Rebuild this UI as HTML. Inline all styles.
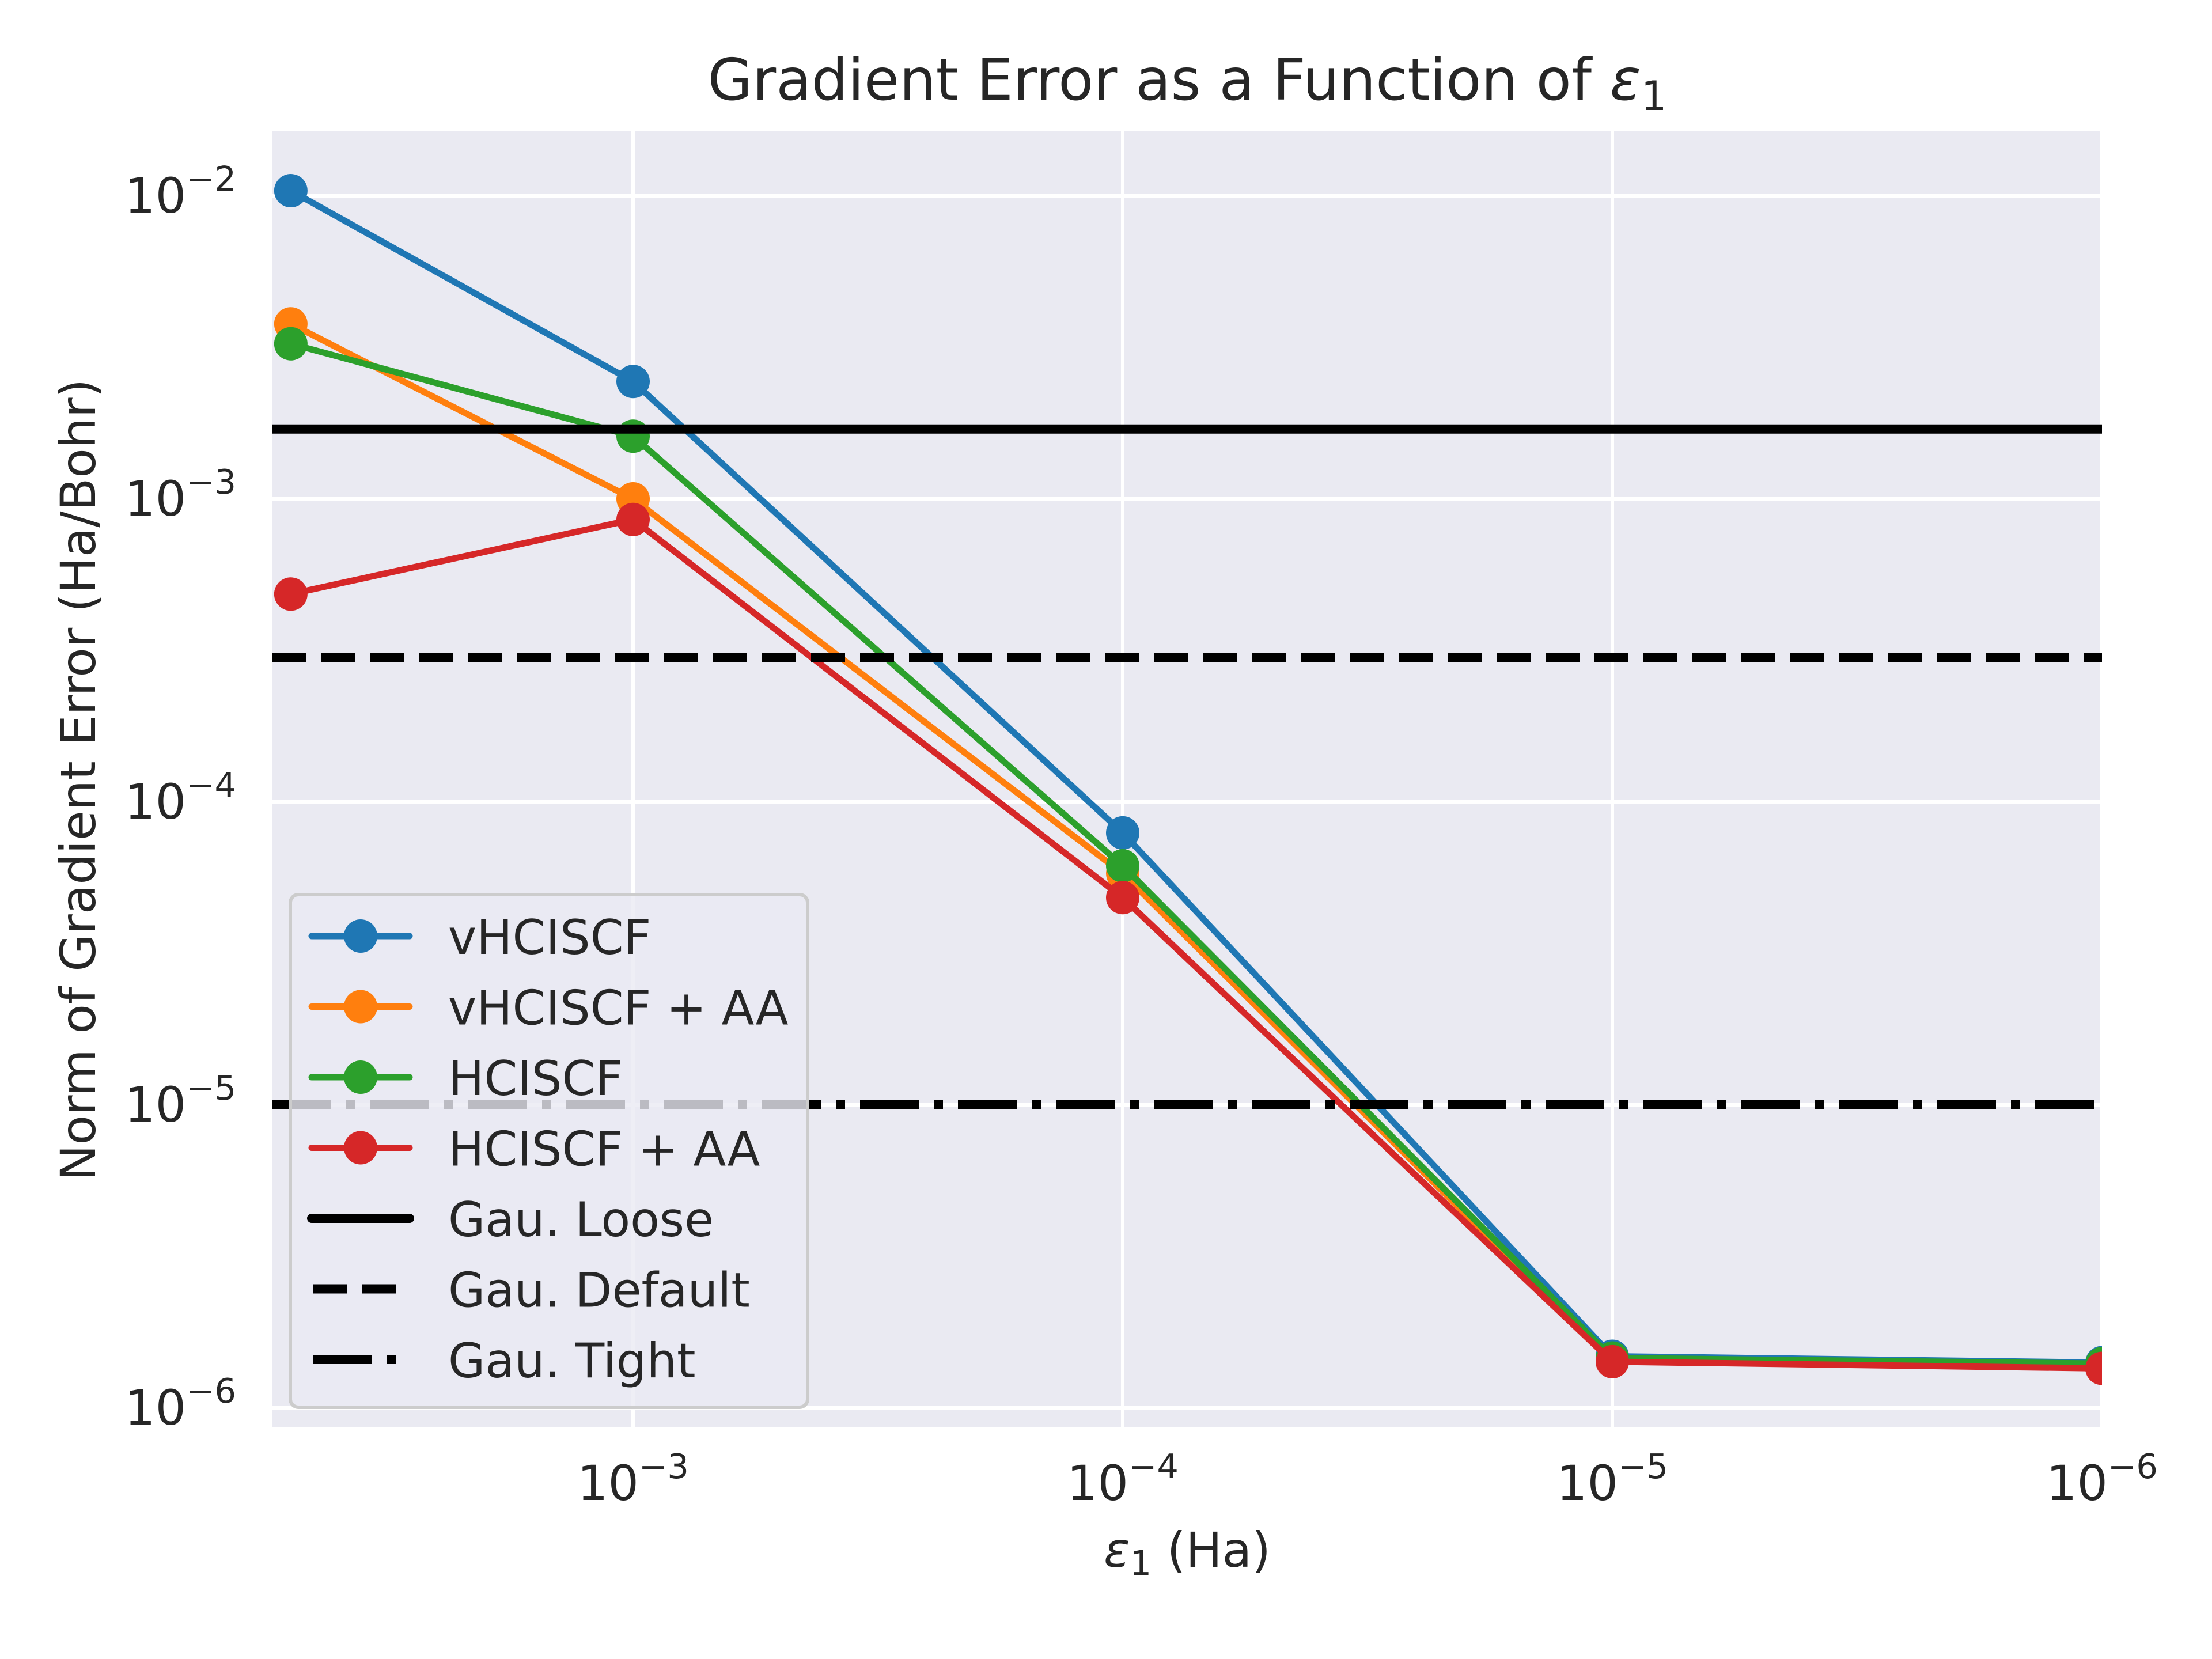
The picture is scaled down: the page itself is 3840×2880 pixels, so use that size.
<!DOCTYPE html>
<html><head><meta charset="utf-8"><style>
html,body{margin:0;padding:0;background:#fff}
svg{display:block}
text{font-family:"DejaVu Sans","Liberation Sans",sans-serif;fill:#262626}
</style></head><body>
<svg id="chart" width="3840" height="2880" viewBox="0 0 3840 2880" xmlns="http://www.w3.org/2000/svg">
<defs><clipPath id="plotclip"><rect x="473" y="228" width="3176" height="2250"/></clipPath></defs>
<rect x="0" y="0" width="3840" height="2880" fill="#fff"/>
<rect x="473" y="228" width="3176" height="2250" fill="#EAEAF2"/>
<g id="grid"></g>
<g id="series" clip-path="url(#plotclip)"></g>
<g id="hlines"></g>
<g id="xticks"></g>
<g id="yticks"></g>
<text x="2061" y="173" font-size="100" text-anchor="middle">Gradient Error as a Function of <tspan font-style="italic">ε</tspan><tspan font-size="70" dy="18">1</tspan></text>
<text x="2061" y="2720" font-size="84" text-anchor="middle"><tspan font-style="italic">ε</tspan><tspan font-size="59" dy="14">1</tspan><tspan dy="-14"> (Ha)</tspan></text>
<text x="0" y="0" font-size="84" text-anchor="middle" transform="translate(165,1354) rotate(-90)">Norm of Gradient Error (Ha/Bohr)</text>
<g id="legend">
<rect x="504" y="1553" width="898" height="890" rx="14" fill="#EAEAF2" fill-opacity="0.8" stroke="#cccccc" stroke-width="6"/>
</g>
</svg>
<script>
const NS='http://www.w3.org/2000/svg';
const xValues=[5e-3,1e-3,1e-4,1e-5,1e-6];
const seriesNames=['vHCISCF','vHCISCF + AA','HCISCF','HCISCF + AA'];
const vhciscf=[1.04e-2,2.44e-3,7.9e-5,1.48e-6,1.41e-6];
const vhciscfAA=[3.78e-3,1.0e-3,5.8e-5,1.44e-6,1.38e-6];
const hciscf=[3.25e-3,1.61e-3,6.15e-5,1.46e-6,1.40e-6];
const hciscfAA=[4.85e-4,8.55e-4,4.83e-5,1.42e-6,1.35e-6];
const seriesColors=['#1f77b4','#ff7f0e','#2ca02c','#d62728'];
const thresholdNames=['Gau. Loose','Gau. Default','Gau. Tight'];
const thresholdValues=[1.7e-3,3e-4,1e-5];
const xTickExps=[3,4,5,6];
const yTickExps=[2,3,4,5,6];

const L=473,R=3649,T=228,B=2478;
function xs(v){return 1099+(-Math.log10(v)-3)*850;}
function ys(v){return 340+(-2-Math.log10(v))*526;}
function mk(tag,attrs,parent){const e=document.createElementNS(NS,tag);for(const k in attrs)e.setAttribute(k,attrs[k]);parent.appendChild(e);return e;}

const grid=document.getElementById('grid');
xTickExps.forEach(e=>{const x=xs(Math.pow(10,-e));
 const l=mk('line',{x1:x,x2:x,y1:T,y2:B,stroke:'#fff','stroke-width':6},grid);
 
 });
yTickExps.forEach(e=>{const y=ys(Math.pow(10,-e));
 const l=mk('line',{x1:L,x2:R,y1:y,y2:y,stroke:'#fff','stroke-width':6},grid);
 
 });

const allSeries=[vhciscf,vhciscfAA,hciscf,hciscfAA];
const sg=document.getElementById('series');
allSeries.forEach((vals,i)=>{
 const g=mk('g',{},sg);
 
 
 const pts=vals.map((v,j)=>xs(xValues[j])+','+ys(v)).join(' ');
 const pl=mk('polyline',{points:pts,fill:'none',stroke:seriesColors[i],'stroke-width':11,'stroke-linejoin':'round','stroke-linecap':'round'},g);
 
 
 vals.forEach((v,j)=>{
  const c=mk('circle',{cx:xs(xValues[j]),cy:ys(v),r:29,fill:seriesColors[i]},g);
  
  
 });
});

const dashes=['none','59 26','102 26 16 26'];
const hg=document.getElementById('hlines');
thresholdValues.forEach((v,i)=>{
 const y=ys(v);
 const attrs={x1:L,x2:R,y1:y,y2:y,stroke:'#000','stroke-width':16};
 if(dashes[i]!=='none')attrs['stroke-dasharray']=dashes[i];
 const l=mk('line',attrs,hg);
 
 
});

const xt=document.getElementById('xticks');
xTickExps.forEach(e=>{
 const t=mk('text',{x:xs(Math.pow(10,-e)),y:2604,'font-size':84,'text-anchor':'middle'},xt);
 
 
 t.innerHTML='10<tspan font-size="59" dy="-38">−'+e+'</tspan>';
});
const yt=document.getElementById('yticks');
yTickExps.forEach(e=>{
 const t=mk('text',{x:410,y:ys(Math.pow(10,-e))+29,'font-size':84,'text-anchor':'end'},yt);
 
 
 t.innerHTML='10<tspan font-size="59" dy="-38">−'+e+'</tspan>';
});

const lg=document.getElementById('legend');
const labels=seriesNames.concat(thresholdNames);
labels.forEach((name,i)=>{
 const cy=1625+i*122.5;
 const g=mk('g',{},lg);
 
 
 if(i<4){
  mk('line',{x1:541,x2:711,y1:cy,y2:cy,stroke:seriesColors[i],'stroke-width':11,'stroke-linecap':'round'},g);
  mk('circle',{cx:626,cy:cy,r:29,fill:seriesColors[i]},g);
 }else{
  const k=i-4;
  const a={x1:541,x2:711,y1:cy,y2:cy,stroke:'#000','stroke-width':16};
  if(k===0)a['stroke-linecap']='round';
  if(dashes[k]!=='none'){a['stroke-dasharray']=dashes[k];a.x1=543;a.x2=693;}
  mk('line',a,g);
 }
 const t=mk('text',{x:778,y:cy+31,'font-size':83},g);
 
 
 t.textContent=name;
});
</script>
</body></html>
